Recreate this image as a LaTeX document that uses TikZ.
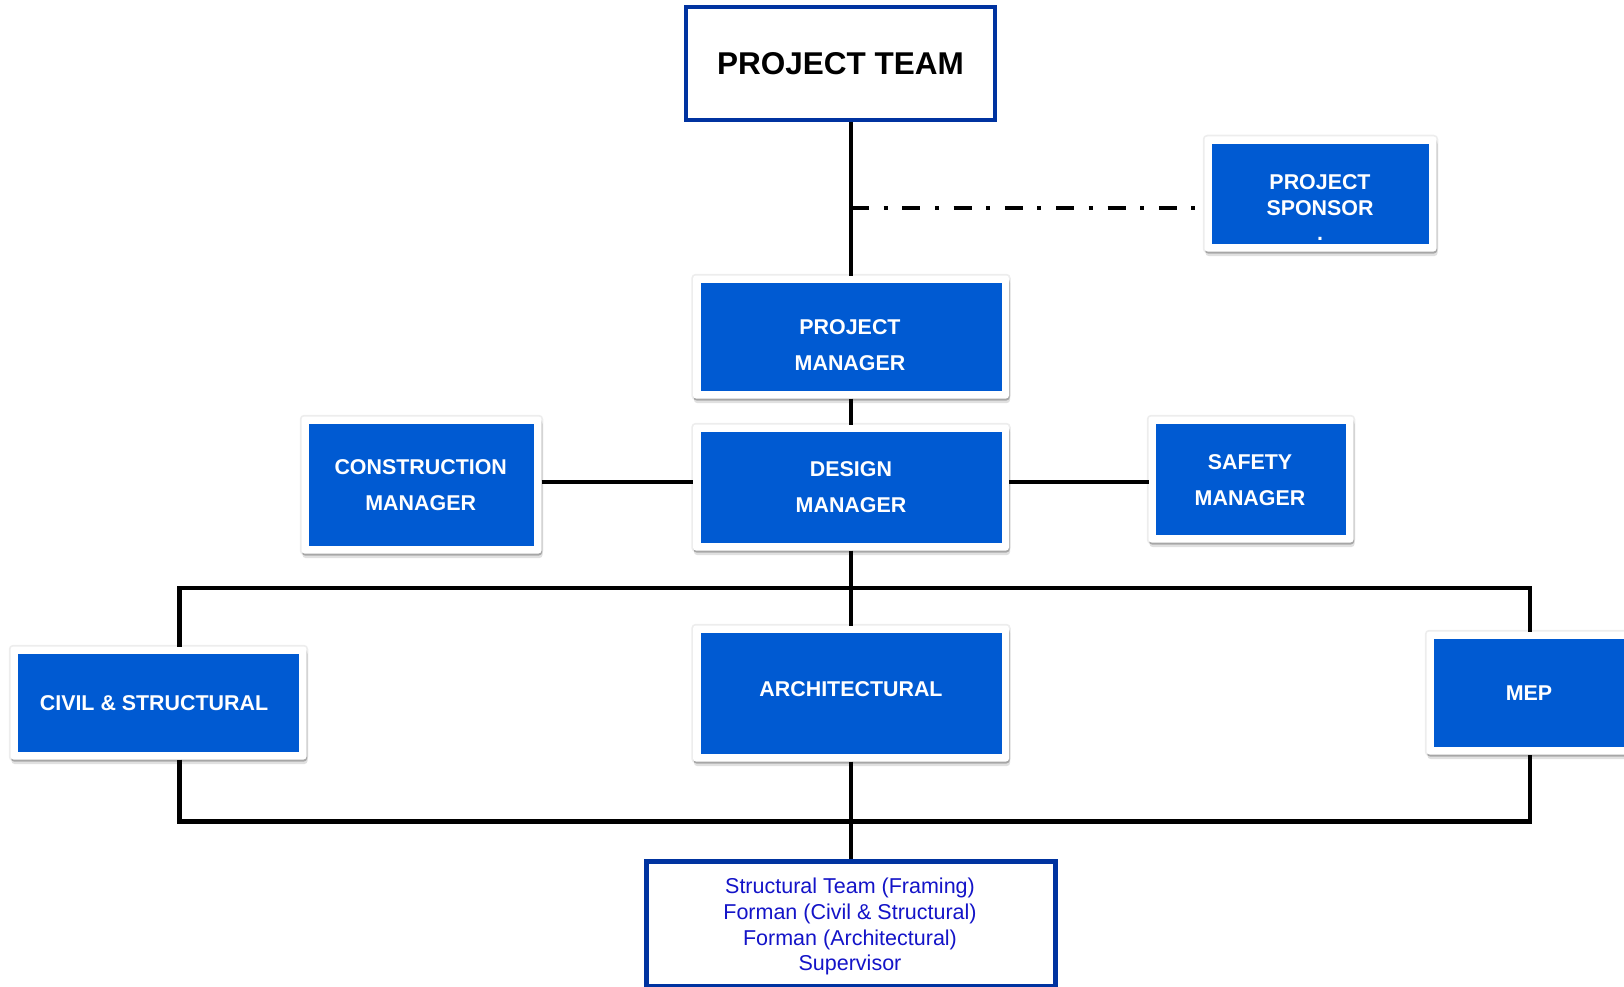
\documentclass[tikz,border=0pt]{standalone}
\usepackage{fontspec}
\setmainfont{Liberation Sans}
\usetikzlibrary{shadows}
\definecolor{boxblue}{RGB}{0,90,210}
\definecolor{teamblue}{RGB}{0,51,160}
\definecolor{txtblue}{RGB}{20,20,200}
\tikzset{
  frame/.style={fill=white, draw=none, rounded corners=3pt, inner sep=0pt, outer sep=0pt,
    preaction={draw=black, draw opacity=0.07, line width=3.5pt},
    drop shadow={shadow xshift=0.5pt, shadow yshift=-2pt, opacity=0.2, fill=black},
    drop shadow={shadow xshift=1pt, shadow yshift=-4.5pt, opacity=0.12, fill=black}},
  bluebox/.style={fill=boxblue, draw=none, inner sep=0pt, outer sep=0pt},
  btext/.style={text=white, font=\fontsize{21.4}{36}\selectfont\bfseries, align=center, inner sep=0pt},
  conn/.style={draw=black, line width=4.6pt, line join=miter},
  dashdotline/.style={draw=black, line width=4.2pt, line cap=butt,
    dash pattern=on 18pt off 14.5pt on 4pt off 14.8pt},
}
\begin{document}
\begin{tikzpicture}[x=1pt,y=-1pt]
\useasboundingbox (0,0) rectangle (1624,987);
\fill[white] (0,0) rectangle (1624,987);

% PROJECT TEAM
\node[draw=teamblue, line width=4.7pt, fill=white, minimum width=309pt, minimum height=113pt,
  inner sep=0pt, font=\fontsize{31.5}{36}\selectfont\bfseries] (team) at (840.5,63.5) {PROJECT TEAM};

% PROJECT SPONSOR
\node[frame, minimum width=232pt, minimum height=115pt] (sp-f) at (1320.5,194) {};
\node[bluebox, minimum width=217pt, minimum height=100pt] (sp) at (1320.5,194) {};
\node[btext, font=\fontsize{21.4}{25.5}\selectfont\bfseries] (sp-t) at (1320,208) {PROJECT\\SPONSOR\\.};

% PROJECT MANAGER
\node[frame, minimum width=316pt, minimum height=123pt] (pm-f) at (851,337) {};
\node[bluebox, minimum width=301pt, minimum height=108pt] (pm) at (851,337) {};
\node[btext] (pm-t) at (850,345) {PROJECT\\MANAGER};

% DESIGN MANAGER
\node[frame, minimum width=316pt, minimum height=126pt] (dm-f) at (851,487.5) {};
\node[bluebox, minimum width=301pt, minimum height=111pt] (dm) at (851,487.5) {};
\node[btext] (dm-t) at (851,487) {DESIGN\\MANAGER};

% CONSTRUCTION MANAGER
\node[frame, minimum width=240pt, minimum height=137pt] (cm-f) at (421.5,485) {};
\node[bluebox, minimum width=225pt, minimum height=122pt] (cm) at (421.5,485) {};
\node[btext] (cm-t) at (420.7,485) {CONSTRUCTION\\MANAGER};

% SAFETY MANAGER
\node[frame, minimum width=205pt, minimum height=126pt] (sm-f) at (1251,479.5) {};
\node[bluebox, minimum width=190pt, minimum height=111pt] (sm) at (1251,479.5) {};
\node[btext] (sm-t) at (1250,479.7) {SAFETY\\MANAGER};

% CIVIL & STRUCTURAL
\node[frame, minimum width=296pt, minimum height=113pt] (cs-f) at (158.5,703) {};
\node[bluebox, minimum width=281pt, minimum height=98pt] (cs) at (158.5,703) {};
\node[btext] (cs-t) at (154,703) {CIVIL \& STRUCTURAL};

% ARCHITECTURAL
\node[frame, minimum width=316pt, minimum height=136pt] (ar-f) at (851,693.5) {};
\node[bluebox, minimum width=301pt, minimum height=121pt] (ar) at (851,693.5) {};
\node[btext] (ar-t) at (851,689) {ARCHITECTURAL};

% MEP
\node[frame, minimum width=205pt, minimum height=123pt] (mep-f) at (1529,693) {};
\node[bluebox, minimum width=190pt, minimum height=108pt] (mep) at (1529,693) {};
\node[btext] (mep-t) at (1529,693) {MEP};

% Bottom box
\node[draw=teamblue, line width=5pt, fill=white, minimum width=409pt, minimum height=125pt,
  inner sep=0pt] (bt) at (851,924) {};
\node[text=txtblue, font=\fontsize{21.5}{25.7}\selectfont, align=center, inner sep=0pt] (bt-t) at (850,926.7)
  {Structural Team (Framing)\\Forman (Civil \& Structural)\\Forman (Architectural)\\Supervisor};

% Connectors
\draw[conn] (team.south -| pm-f.north) -- (pm-f.north);
\coordinate (dd) at (851,208);
\draw[dashdotline] (dd) -- (dd -| sp-f.west);
\draw[conn] (pm-f.south) -- (dm-f.north);
\coordinate (hy) at (0,482);
\draw[conn] (cm-f.east |- hy) -- (dm-f.west |- hy);
\draw[conn] (dm-f.east |- hy) -- (sm-f.west |- hy);
\draw[conn] (dm-f.south) -- (ar-f.north);
\coordinate (tb) at (0,588);
\coordinate (bb) at (0,821.7);
\coordinate (cx) at (179.6,0);
\coordinate (mx) at (1530,0);
\draw[conn] (cx |- cs-f.north) -- (cx |- tb) -- (mx |- tb) -- (mx |- mep-f.north);
\draw[conn] (cx |- cs-f.south) -- (cx |- bb) -- (mx |- bb) -- (mx |- mep-f.south);
\draw[conn] (ar-f.south) -- (bt.north);
\end{tikzpicture}
\end{document}
